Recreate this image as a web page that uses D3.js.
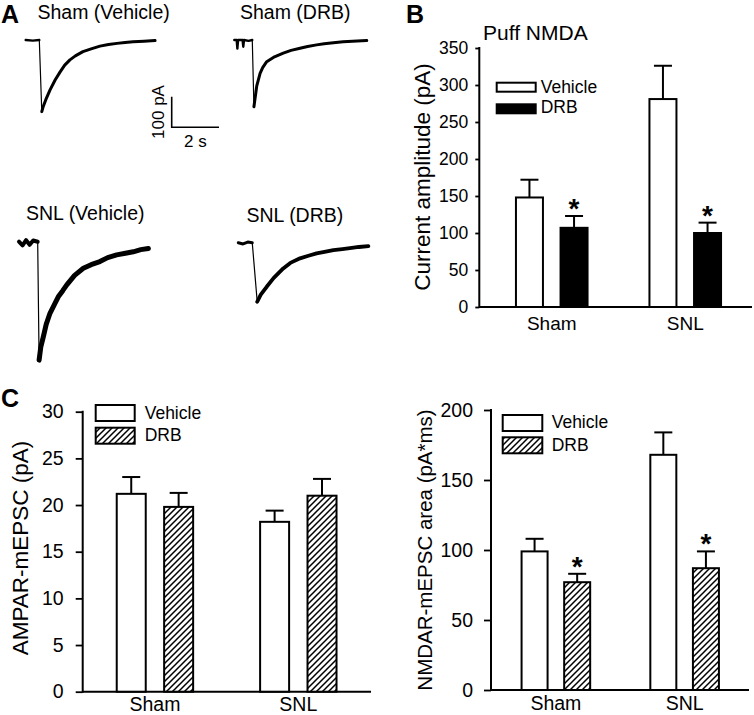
<!DOCTYPE html>
<html><head><meta charset="utf-8">
<script src="https://cdn.jsdelivr.net/npm/d3@7"></script>
<style>
body{margin:0;background:#fff}
svg{display:block}
text{font-family:"Liberation Sans",Arial,Helvetica,sans-serif;fill:#000}
</style>
</head><body>
<svg id="c" width="754" height="715"></svg>
<script>
// ---------------- data ----------------
const groups = ["Sham", "SNL"];
const series = ["Vehicle", "DRB"];

// Panel B: puff NMDA current amplitude (pA)
const puffTicks = [0, 50, 100, 150, 200, 250, 300, 350];
const puffVehicle = [148, 281];
const puffVehicleSem = [24, 45];
const puffDRB = [107, 100];
const puffDRBSem = [16, 14];
const puffDRBSig = [true, true];

// Panel C left: AMPAR-mEPSC (pA)
const ampaTicks = [0, 5, 10, 15, 20, 25, 30];
const ampaVehicle = [21.2, 18.2];
const ampaVehicleSem = [1.8, 1.2];
const ampaDRB = [19.8, 21.0];
const ampaDRBSem = [1.5, 1.8];
const ampaDRBSig = [false, false];

// Panel C right: NMDAR-mEPSC area (pA*ms)
const nmdaTicks = [0, 50, 100, 150, 200];
const nmdaVehicle = [99, 168];
const nmdaVehicleSem = [9, 16];
const nmdaDRB = [77, 87];
const nmdaDRBSem = [6, 12];
const nmdaDRBSig = [true, true];

// Panel A: example traces, time (s) and current (pA)
const traceTitles = ["Sham (Vehicle)", "Sham (DRB)", "SNL (Vehicle)", "SNL (DRB)"];
const shamVehT = [0, 0.3, 0.575, 0.68, 0.73, 0.85, 1.03, 1.25, 1.45, 1.65, 1.87, 2.1, 2.42, 2.8, 3.14, 3.5, 3.86, 4.2, 4.54, 5.0, 5.47];
const shamVehI = [0, -2, 0, -234, -220, -195, -163, -130, -105, -82, -65, -52, -38, -28, -20, -15, -11, -8, -6, -4, -2];
const shamDRBT = [0, 0.1, 0.13, 0.16, 0.35, 0.38, 0.41, 0.6, 0.76, 0.83, 0.95, 1.09, 1.2, 1.37, 1.7, 2.07, 2.4, 2.78, 3.1, 3.48, 3.8, 4.19, 4.6, 5.0, 5.6];
const shamDRBI = [0, 0, -28, 0, 0, -22, 0, -3, 0, -218, -150, -109, -90, -71, -55, -43, -34, -27, -21, -16, -12, -9, -6, -4, -2];
const snlVehT = [0, 0.15, 0.3, 0.45, 0.6, 0.79, 0.85, 0.92, 1.03, 1.15, 1.31, 1.5, 1.66, 1.85, 2.02, 2.35, 2.72, 3.05, 3.42, 3.75, 4.13, 4.5, 4.83, 5.15, 5.47];
const snlVehI = [0, -12, 5, -10, 4, 0, -387, -345, -310, -270, -234, -205, -180, -160, -141, -110, -87, -75, -65, -52, -43, -38, -33, -26, -22];
const snlDRBT = [0, 0.2, 0.4, 0.59, 0.8, 0.95, 1.2, 1.5, 1.9, 2.2, 2.61, 3.0, 3.31, 3.7, 4.02, 4.4, 4.72, 5.1, 5.5];
const snlDRBI = [0, -4, 2, 0, -193, -170, -144, -115, -84, -66, -51, -42, -35, -29, -24, -21, -18, -14, -11];

// ---------------- drawing ----------------
const svg = d3.select("#c");
const defs = svg.append("defs");
const pat = defs.append("pattern").attr("id", "hatch")
  .attr("patternUnits", "userSpaceOnUse").attr("width", 6).attr("height", 6);
pat.append("rect").attr("width", 6).attr("height", 6).attr("fill", "#fff");
pat.append("path").attr("d", "M-1,1 l2,-2 M0,6 l6,-6 M5,7 l2,-2")
  .attr("stroke", "#000").attr("stroke-width", 1.5);

function panelLabel(txt, x, y) {
  svg.append("text").attr("x", x).attr("y", y).text(txt)
    .style("font-size", "25px").style("font-weight", "bold");
}

// ---- Panel A ----
panelLabel("A", 1, 23);
const tx = d3.scaleLinear().domain([0, 2]).range([0, 47.3]);
const ty = d3.scaleLinear().domain([0, -100]).range([0, 30.6]);
const traceLine = d3.line().x(d => tx(d[0])).y(d => ty(d[1]));
function drawTrace(t, i, ox, oy, sw) {
  const pts = d3.zip(t, i);
  const pk = d3.minIndex(i);
  const g = svg.append("g").attr("transform", `translate(${ox},${oy})`);
  const seg = (arr, w) => g.append("path").datum(arr).attr("d", traceLine)
    .attr("fill", "none").attr("stroke", "#000").attr("stroke-width", w)
    .attr("stroke-linejoin", "round").attr("stroke-linecap", "round");
  seg(pts.slice(0, pk), sw * 0.8);
  seg(pts.slice(pk - 1, pk + 1), 1.2);
  seg(pts.slice(pk), sw);
}
drawTrace(shamVehT, shamVehI, 25.7, 40, 3);
drawTrace(shamDRBT, shamDRBI, 234.3, 40, 3);
drawTrace(snlVehT, snlVehI, 19, 241.7, 5);
drawTrace(snlDRBT, snlDRBI, 238.3, 242.7, 3.8);

const titlePos = [[37.5, 19], [240, 19], [26, 220], [246.5, 222]];
traceTitles.forEach((s, k) => {
  svg.append("text").attr("x", titlePos[k][0]).attr("y", titlePos[k][1]).text(s)
    .style("font-size", "19.5px");
});
// scale bar: 100 pA, 2 s
const sb = svg.append("g").attr("transform", "translate(171.7,127.3)");
sb.append("path").attr("d", `M0,${ty(-100) * -1}V0H${tx(2)}`)
  .attr("fill", "none").attr("stroke", "#000").attr("stroke-width", 1.6);
sb.append("text").attr("transform", `translate(-8,${-ty(-100) / 2}) rotate(-90)`)
  .attr("text-anchor", "middle").text("100 pA").style("font-size", "17px");
sb.append("text").attr("x", tx(1)).attr("y", 19.4).attr("text-anchor", "middle")
  .text("2 s").style("font-size", "17px");

// ---- bar panels ----
function barPanel(c) {
  const g = svg.append("g");
  const y = d3.scaleLinear().domain([0, c.max]).range([c.yBottom, c.yTop]);
  const x = d3.scaleBand().domain(groups).range([c.bandStart, c.bandEnd]);
  const gap = 2 * c.offset - c.w;
  const xi = d3.scaleBand().domain(series)
    .range([-(c.offset + c.w / 2), c.offset + c.w / 2])
    .paddingInner(gap / (c.w + gap));
  const cx = gi => x(groups[gi]) + x.bandwidth() / 2;

  // y axis
  const ya = d3.axisLeft(y).tickValues(c.ticks).tickSize(c.tickLen).tickPadding(c.tickPad)
    .tickFormat(d3.format("d"));
  const yg = g.append("g").attr("transform", `translate(${c.axisX},0)`).call(ya);
  yg.select(".domain").remove();
  yg.selectAll(".tick line").attr("stroke", "#000").attr("stroke-width", 1.8);
  yg.selectAll(".tick text").style("font-size", c.tickFont + "px")
    .style("font-family", '"Liberation Sans",Arial,sans-serif').attr("fill", "#000");
  g.append("line").attr("x1", c.axisX).attr("x2", c.axisX)
    .attr("y1", y(c.max) - 1).attr("y2", c.yBottom + 1)
    .attr("stroke", "#000").attr("stroke-width", 2);
  // x axis (no ticks)
  const xa = d3.axisBottom(x).tickSize(0).tickPadding(c.catPad);
  const xg = g.append("g").attr("transform", `translate(0,${c.yBottom})`).call(xa);
  xg.select(".domain").remove();
  xg.selectAll(".tick text").style("font-size", c.catFont + "px")
    .style("font-family", '"Liberation Sans",Arial,sans-serif').attr("fill", "#000");
  g.append("line").attr("x1", c.axisX).attr("x2", c.axisEnd)
    .attr("y1", c.yBottom).attr("y2", c.yBottom)
    .attr("stroke", "#000").attr("stroke-width", 2);

  const data = [
    {s: "Vehicle", v: c.veh, e: c.vehSem, sig: [false, false], fill: "#fff"},
    {s: "DRB", v: c.drb, e: c.drbSem, sig: c.drbSig, fill: c.drbFill}
  ];
  data.forEach(d => {
    d.v.forEach((val, gi) => {
      const bx = cx(gi) + xi(d.s);
      const mid = bx + xi.bandwidth() / 2;
      const top = y(val + d.e[gi]);
      g.append("line").attr("x1", mid).attr("x2", mid).attr("y1", y(val)).attr("y2", top)
        .attr("stroke", "#000").attr("stroke-width", 2);
      g.append("line").attr("x1", mid - c.cap / 2).attr("x2", mid + c.cap / 2)
        .attr("y1", top).attr("y2", top).attr("stroke", "#000").attr("stroke-width", 2);
      g.append("rect").attr("x", bx).attr("y", y(val)).attr("width", xi.bandwidth())
        .attr("height", c.yBottom - y(val)).attr("fill", d.fill)
        .attr("stroke", "#000").attr("stroke-width", 2);
      if (d.sig[gi]) {
        g.append("text").attr("x", mid).attr("y", top + 2).attr("text-anchor", "middle")
          .text("*").style("font-size", "28px").style("font-weight", "bold");
      }
    });
  });

  // legend
  c.legendY.forEach((ly, k) => {
    g.append("rect").attr("x", c.legendX).attr("y", ly).attr("width", c.legW).attr("height", c.legH)
      .attr("fill", k === 0 ? "#fff" : c.drbFill).attr("stroke", "#000").attr("stroke-width", 2);
    g.append("text").attr("x", c.legendX + c.legW + c.legGap).attr("y", c.legendTextY[k])
      .text(series[k]).style("font-size", "17.5px");
  });

  // y title
  g.append("text").attr("transform", `translate(${c.titleX},${c.titleY}) rotate(-90)`)
    .attr("text-anchor", "middle").text(c.title).style("font-size", c.titleFont + "px");
}

// Panel B
panelLabel("B", 406, 23);
svg.append("text").attr("x", 483).attr("y", 40).text("Puff NMDA").style("font-size", "21px");
barPanel({
  max: 350, ticks: puffTicks, yTop: 48, yBottom: 307,
  axisX: 479.3, axisEnd: 752, bandStart: 485, bandEnd: 752,
  offset: 22.3, w: 27, cap: 18, tickLen: 4, tickPad: 7, tickFont: 17.5,
  catPad: 9.5, catFont: 19,
  veh: puffVehicle, vehSem: puffVehicleSem, drb: puffDRB, drbSem: puffDRBSem, drbSig: puffDRBSig,
  drbFill: "#000",
  legendX: 496.7, legendY: [82.7, 104.3], legW: 39, legH: 9, legGap: 5,
  legendTextY: [92.7, 113.3],
  title: "Current amplitude (pA)", titleX: 430, titleY: 177, titleFont: 22.5
});

// Panel C left
panelLabel("C", 1, 407);
barPanel({
  max: 30, ticks: ampaTicks, yTop: 411.7, yBottom: 691.7,
  axisX: 82.7, axisEnd: 371, bandStart: 83.25, bandEnd: 370,
  offset: 23.7, w: 29, cap: 18, tickLen: 7, tickPad: 12, tickFont: 19.5,
  catPad: 5, catFont: 19.5,
  veh: ampaVehicle, vehSem: ampaVehicleSem, drb: ampaDRB, drbSem: ampaDRBSem, drbSig: ampaDRBSig,
  drbFill: "url(#hatch)",
  legendX: 95.7, legendY: [405, 427.7], legW: 39, legH: 16, legGap: 10,
  legendTextY: [419, 441],
  title: "AMPAR-mEPSC (pA)", titleX: 27.5, titleY: 548, titleFont: 22.5
});

// Panel C right
barPanel({
  max: 200, ticks: nmdaTicks, yTop: 410, yBottom: 690,
  axisX: 491, axisEnd: 749, bandStart: 491.5, bandEnd: 749,
  offset: 21.3, w: 26, cap: 18, tickLen: 7, tickPad: 11, tickFont: 19.5,
  catPad: 6.5, catFont: 19.5,
  veh: nmdaVehicle, vehSem: nmdaVehicleSem, drb: nmdaDRB, drbSem: nmdaDRBSem, drbSig: nmdaDRBSig,
  drbFill: "url(#hatch)",
  legendX: 502.7, legendY: [415, 437.3], legW: 39.6, legH: 16, legGap: 9.4,
  legendTextY: [428.3, 450.7],
  title: "NMDAR-mEPSC area (pA*ms)", titleX: 432, titleY: 550, titleFont: 20.5
});
</script>
</body></html>
